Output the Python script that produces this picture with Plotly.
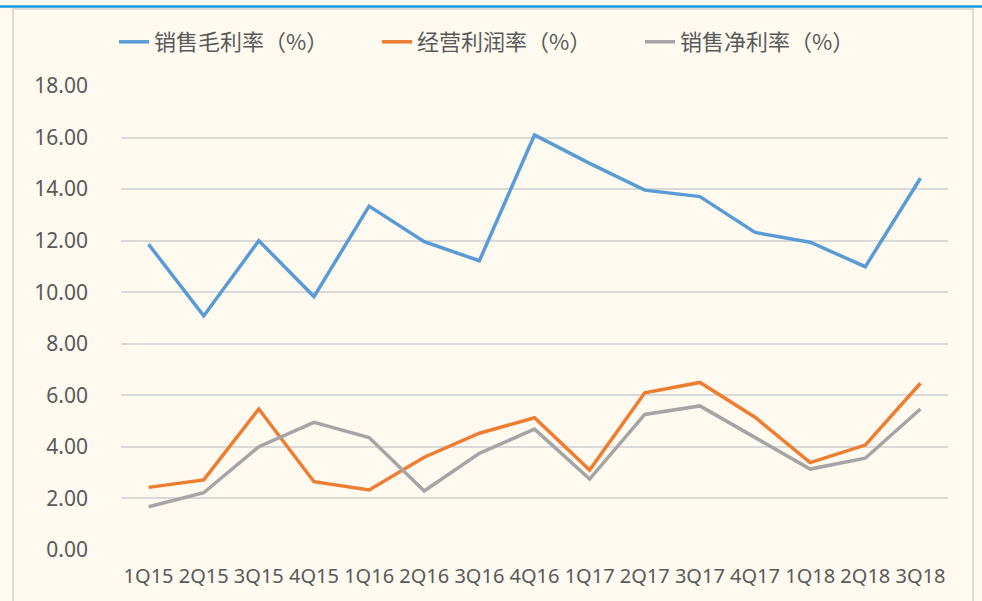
import plotly.graph_objects as go

quarters = ["1Q15", "2Q15", "3Q15", "4Q15", "1Q16", "2Q16", "3Q16", "4Q16",
            "1Q17", "2Q17", "3Q17", "4Q17", "1Q18", "2Q18", "3Q18"]
gross_margin = [11.86, 9.08, 12.00, 9.83, 13.34, 11.96, 11.22, 16.10,
                15.00, 13.96, 13.71, 12.32, 11.94, 10.99, 14.42]
operating_margin = [2.43, 2.72, 5.47, 2.65, 2.33, 3.60, 4.53, 5.13,
                    3.10, 6.10, 6.50, 5.15, 3.39, 4.07, 6.47]
net_margin = [1.68, 2.22, 4.01, 4.95, 4.36, 2.29, 3.75, 4.69,
              2.75, 5.26, 5.59, 4.37, 3.14, 3.56, 5.47]
series_names = ["销售毛利率（%）", "经营利润率（%）", "销售净利率（%）"]
tick_vals = [0, 2, 4, 6, 8, 10, 12, 14, 16, 18]
tick_text = ["0.00", "2.00", "4.00", "6.00", "8.00", "10.00", "12.00", "14.00", "16.00", "18.00"]

colors = ["#5B9BD5", "#ED7D31", "#A5A5A5"]
CJK = "Noto Sans CJK SC"
NUM = "Noto Sans, Noto Sans CJK SC"
BG = "#FEFAF0"

W, H = 982, 601
L, R, T, B = 121, 34, 86, 51
PW, PH = W - L - R, H - T - B


def px_x(x):
    return (x - L) / PW


def px_y(y):
    return (H - B - y) / PH


fig = go.Figure()
for name, vals, c in zip(series_names, [gross_margin, operating_margin, net_margin], colors):
    fig.add_trace(go.Scatter(x=quarters, y=vals, name=name, mode="lines",
                             line=dict(color=c, width=3.5)))

fig.update_layout(
    width=W, height=H,
    paper_bgcolor=BG, plot_bgcolor=BG,
    margin=dict(l=L, r=R, t=T, b=B, autoexpand=False),
    font=dict(family=CJK, color="#595959", size=16),
    showlegend=True,
    legend=dict(orientation="h", x=px_x(114), xanchor="left",
                y=px_y(42), yanchor="middle",
                font=dict(size=22, color="#595959", family=CJK),
                bgcolor="rgba(0,0,0,0)", entrywidthmode="pixels", entrywidth=218),
    xaxis=dict(type="category", range=[-0.5, 14.5], showgrid=False, zeroline=False,
               showline=False, ticks="", tickangle=0,
               tickfont=dict(size=20, color="#595959", family=NUM),
               ticklabelstandoff=12),
    yaxis=dict(range=[0, 18], tickvals=tick_vals, ticktext=tick_text,
               showgrid=True, gridcolor="#D9D9D9", gridwidth=1.5, zeroline=False,
               showline=False, ticks="", tickfont=dict(size=21, color="#595959", family=NUM),
               ticklabelstandoff=32),
    shapes=[
        dict(type="line", xref="paper", yref="paper", x0=px_x(0), x1=px_x(W),
             y0=px_y(6.5), y1=px_y(6.5), line=dict(color="#0A9BE0", width=2.5)),
        dict(type="rect", xref="paper", yref="paper",
             x0=px_x(13), x1=px_x(973), y0=px_y(H + 5), y1=px_y(9),
             line=dict(color="#DDDBD6", width=2), fillcolor="rgba(0,0,0,0)", layer="below"),
    ],
)
fig.write_html("out.html", config={"displayModeBar": False},
               post_script="document.body.style.margin='0';document.body.style.background='%s';" % BG)
